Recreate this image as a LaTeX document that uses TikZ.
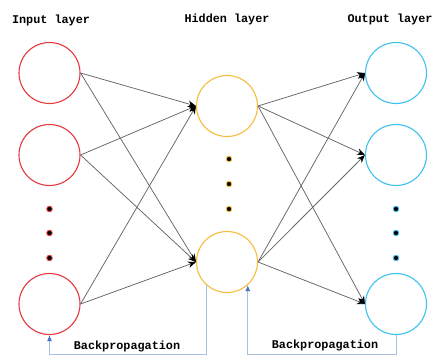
\documentclass[tikz,border=0pt]{standalone}
\usepackage{fontspec}
\setmonofont{Liberation Mono}
\usetikzlibrary{arrows.meta}
\definecolor{inred}{HTML}{E53A3F}
\definecolor{hidorange}{HTML}{F6BE3C}
\definecolor{outcyan}{HTML}{3EC1F0}
\definecolor{bpline}{HTML}{A9C0E2}
\definecolor{bptip}{HTML}{4472C4}
\definecolor{wire}{HTML}{666666}
\tikzset{
  neuron/.style={circle, draw=#1, line width=1.1pt, minimum size=61pt, inner sep=0pt},
  gap/.style={circle, fill=black, draw=#1, line width=0.9pt, minimum size=5.5pt, inner sep=0pt},
  wiring/.style={draw=wire, line width=0.75pt, -{Stealth[length=8pt,width=6.5pt,black]}},
  bpath/.style={draw=bpline, line width=1pt, -{Latex[length=6pt,width=5pt,bptip]}},
  caption/.style={font=\ttfamily\bfseries\fontsize{11.8}{13}\selectfont, inner sep=0pt}
}
\begin{document}
\begin{tikzpicture}[x=1pt,y=-1pt]
\useasboundingbox (0,0) rectangle (435,356);
\fill[white] (0,0) rectangle (435,356);

% layer titles
\node[caption] (tin)  at (51,20)  {Input layer};
\node[caption] (thid) at (227,19) {Hidden layer};
\node[caption] (tout) at (390,19) {Output layer};

% input layer
\node[neuron=inred] (i1) at (49.5,73)  {};
\node[neuron=inred] (i2) at (49.5,155) {};
\node[neuron=inred] (i3) at (49.5,304) {};
\node[gap=inred] (di1) at (49.5,209) {};
\node[gap=inred] (di2) at (49.5,233) {};
\node[gap=inred] (di3) at (49.5,258) {};

% hidden layer
\node[neuron=hidorange] (h1) at (227,106) {};
\node[neuron=hidorange] (h2) at (227,262) {};
\node[gap=hidorange] (dh1) at (229,159) {};
\node[gap=hidorange] (dh2) at (229,184) {};
\node[gap=hidorange] (dh3) at (229,209) {};

% output layer
\node[neuron=outcyan] (o1) at (396,73)  {};
\node[neuron=outcyan] (o2) at (396,155) {};
\node[neuron=outcyan] (o3) at (396,304) {};
\node[gap=outcyan] (do1) at (396,209) {};
\node[gap=outcyan] (do2) at (396,233) {};
\node[gap=outcyan] (do3) at (396,258) {};

% forward connections
\foreach \a in {i1,i2,i3}
  \foreach \b in {h1,h2}
    \draw[wiring] (\a.east) -- (\b.west);
\foreach \a in {h1,h2}
  \foreach \b in {o1,o2,o3}
    \draw[wiring] (\a.east) -- (\b.west);

% backpropagation paths
\coordinate (base) at (0,354.5);
\draw[bpath] (h2.228) |- (i3.south |- base) -- (i3.south);
\draw[bpath] (o3.south) |- (h2.312 |- base) -- (h2.312);
\node[caption] (bp1) at (127,346) {Backpropagation};
\node[caption] (bp2) at (325,345) {Backpropagation};
\end{tikzpicture}
\end{document}
